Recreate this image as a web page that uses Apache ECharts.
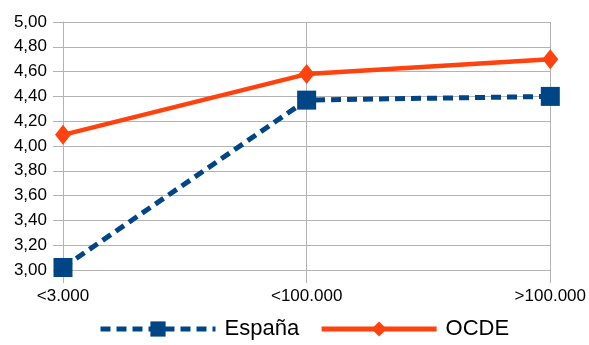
<!DOCTYPE html>
<html>
<head>
<meta charset="utf-8">
<script src="https://cdn.jsdelivr.net/npm/echarts@6/dist/echarts.min.js"></script>
<style>
  html, body { margin: 0; padding: 0; background: #fff; }
  #chart { width: 589px; height: 345px; }
</style>
</head>
<body>
<div id="chart"></div>
<script>
// Population size bands
const categories = ['<3.000', '<100.000', '>100.000'];
// Mean scores per band
const espana = [3.02, 4.37, 4.40];
const ocde = [4.09, 4.58, 4.70];

const gridColor = '#b3b3b3';
const font = 'Liberation Sans, Arial, sans-serif';

const chart = echarts.init(document.getElementById('chart'), null, { renderer: 'canvas' });
chart.setOption({
  animation: false,
  grid: { left: 63, right: 38, top: 22, bottom: 75, containLabel: false },
  legend: {
    bottom: 0,
    left: 93,
    itemWidth: 115,
    itemHeight: 19,
    itemGap: 20,
    lineStyle: { width: 5 },
    textStyle: { fontFamily: font, fontSize: 22, color: '#000', padding: [0, 0, 0, 4] },
    data: ['España', 'OCDE']
  },
  xAxis: {
    type: 'category',
    data: categories,
    boundaryGap: false,
    axisLine: { show: true, lineStyle: { color: gridColor, width: 1 } },
    axisTick: { show: true, length: 13, interval: 0, lineStyle: { color: gridColor } },
    splitLine: { show: true, interval: 0, lineStyle: { color: gridColor, width: 1 } },
    axisLabel: { fontFamily: font, fontSize: 17, color: '#000', margin: 18 }
  },
  yAxis: {
    type: 'value',
    min: 3,
    max: 5,
    interval: 0.2,
    axisLine: { show: true, lineStyle: { color: gridColor, width: 1 } },
    axisTick: { show: true, length: 10, lineStyle: { color: gridColor } },
    splitLine: { show: true, lineStyle: { color: gridColor, width: 1 } },
    axisLabel: {
      fontFamily: font, fontSize: 17, color: '#000', margin: 16,
      formatter: v => v.toFixed(2).replace('.', ',')
    }
  },
  series: [
    {
      name: 'España',
      type: 'line',
      data: espana,
      symbol: 'rect',
      symbolSize: 19,
      itemStyle: { color: '#004586' },
      lineStyle: { color: '#004586', width: 5, type: [10, 6] },
      z: 3
    },
    {
      name: 'OCDE',
      type: 'line',
      data: ocde,
      symbol: 'diamond',
      symbolSize: [16, 20],
      itemStyle: { color: '#ff420e' },
      lineStyle: { color: '#ff420e', width: 4.5 },
      z: 2
    }
  ]
});
</script>
</body>
</html>
